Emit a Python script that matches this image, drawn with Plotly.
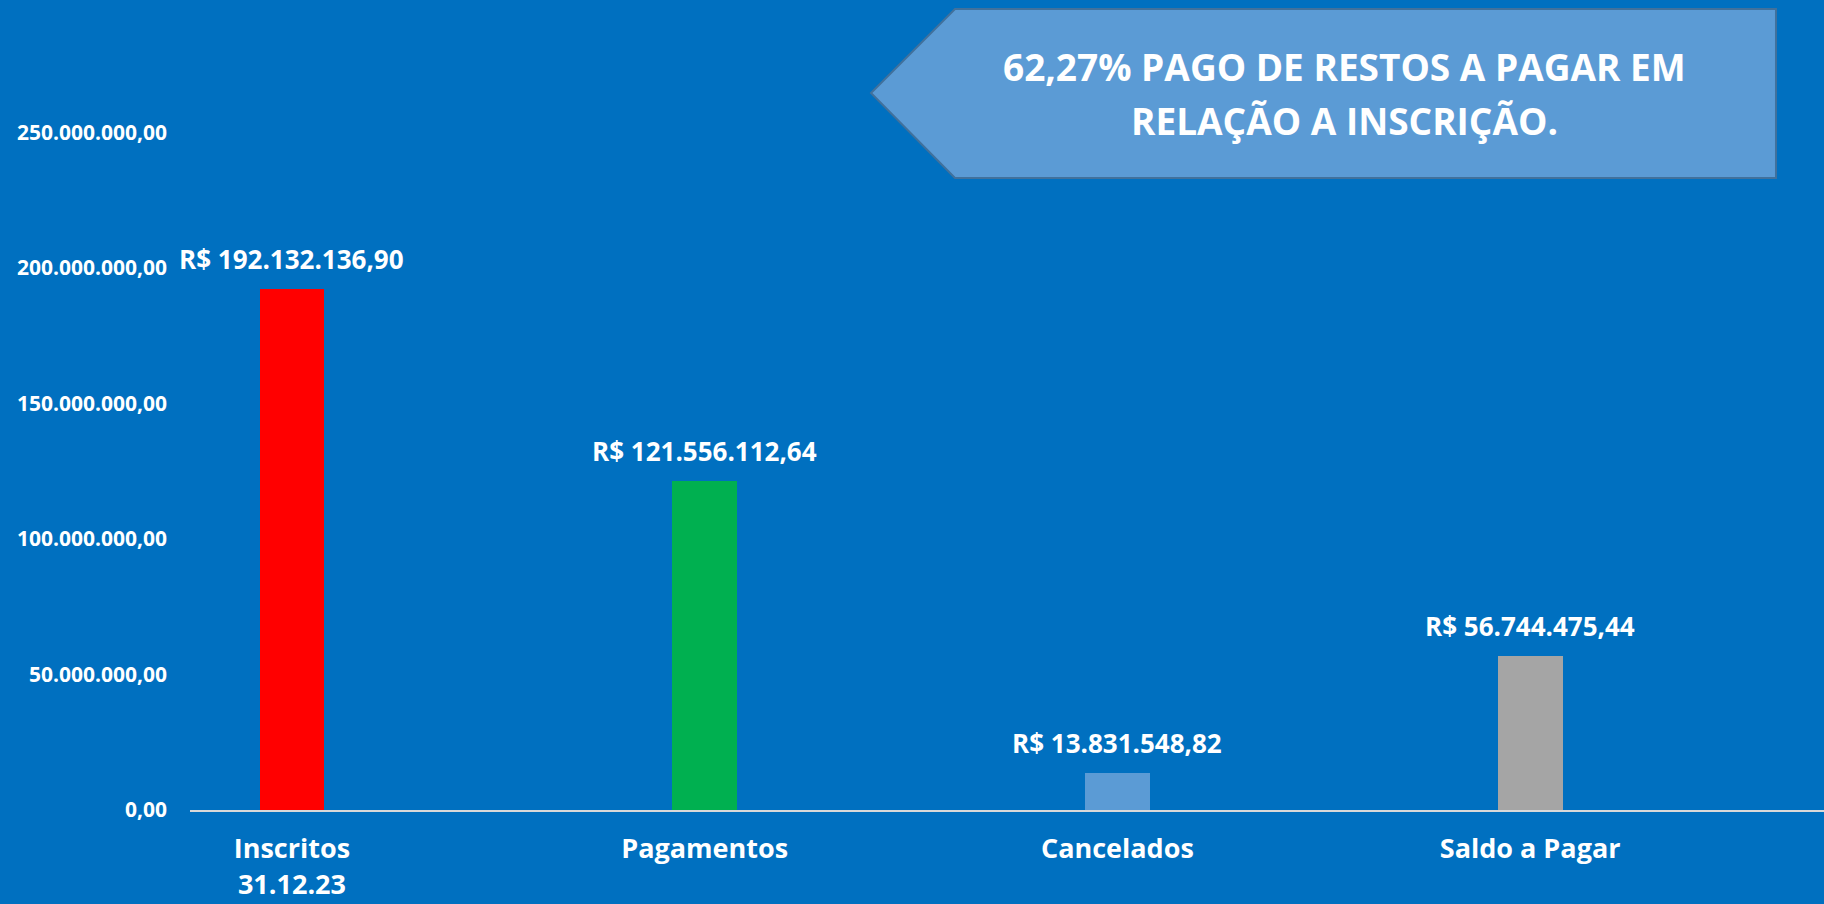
import plotly.graph_objects as go

# Restos a pagar - posicao
categories = ["Inscritos<br>31.12.23", "Pagamentos", "Cancelados", "Saldo a Pagar"]
values = [192132136.90, 121556112.64, 13831548.82, 56744475.44]
bar_colors = ["#FF0000", "#00B050", "#5B9BD5", "#A5A5A5"]
callout_lines = ["62,27% PAGO DE RESTOS A PAGAR EM", "RELAÇÃO A INSCRIÇÃO."]

BG = "#0070C0"
FONT = "Open Sans, Liberation Sans, sans-serif"
W, H = 1824, 904
ML, MR, MT, MB = 190, 0, 0, 94


def to_paper(px, py):
    # pixel position in the page -> paper coords of the plot area
    return (px - ML) / (W - ML - MR), (H - MB - py) / (H - MB - MT)


def br_money(v):
    s = f"{v:,.2f}".replace(",", "X").replace(".", ",").replace("X", ".")
    return "R$ " + s


fig = go.Figure(go.Bar(
    x=categories,
    y=values,
    marker=dict(color=bar_colors, line=dict(width=0)),
    width=0.157,
    hovertemplate="%{x}<br>%{y:,.2f}<extra></extra>",
))

# value labels above the bars
for cat, val in zip(categories, values):
    fig.add_annotation(x=cat, y=val, text="<b>" + br_money(val) + "</b>",
                       showarrow=False, xanchor="center", yanchor="bottom", yshift=10,
                       font=dict(family=FONT, size=26, color="white"))

# callout arrow (pentagon pointing left)
pts = [(871, 93), (955, 9), (1776, 9), (1776, 178), (955, 178)]
pp = [to_paper(x, y) for x, y in pts]
path = "M " + " L ".join(f"{x:.5f},{y:.5f}" for x, y in pp) + " Z"
fig.add_shape(type="path", path=path, xref="paper", yref="paper",
              fillcolor="#5B9BD5", line=dict(color="#41719C", width=2), layer="above")

for line, py in zip(callout_lines, [66, 120]):
    cx, cy = to_paper(1344, py)
    fig.add_annotation(x=cx, y=cy, xref="paper", yref="paper", text="<b>" + line + "</b>",
                       showarrow=False, align="center", xanchor="center", yanchor="middle",
                       font=dict(family=FONT, size=37, color="white"))

fig.update_layout(
    width=W, height=H,
    margin=dict(l=ML, r=MR, t=MT, b=MB),
    paper_bgcolor=BG,
    plot_bgcolor=BG,
    separators=",.",
    showlegend=False,
    bargap=0,
    xaxis=dict(
        range=[-0.247, 3.712],
        showgrid=False,
        showline=True,
        linecolor="#D9D9D9",
        linewidth=2,
        ticks="",
        ticklabelstandoff=14,
        tickfont=dict(family=FONT, size=27, color="white", weight="bold"),
        fixedrange=True,
    ),
    yaxis=dict(
        range=[0, 298.9e6],
        dtick=50e6,
        tickformat=",.2f",
        showgrid=False,
        zeroline=False,
        showline=False,
        ticks="",
        ticklabelstandoff=22,
        tickfont=dict(family=FONT, size=21, color="white", weight="bold"),
        fixedrange=True,
    ),
)

# drop the browser's default page margin so the chart fills the window
fig.write_html("out.html", config={"displayModeBar": False},
               post_script="document.body.style.margin='0';")
